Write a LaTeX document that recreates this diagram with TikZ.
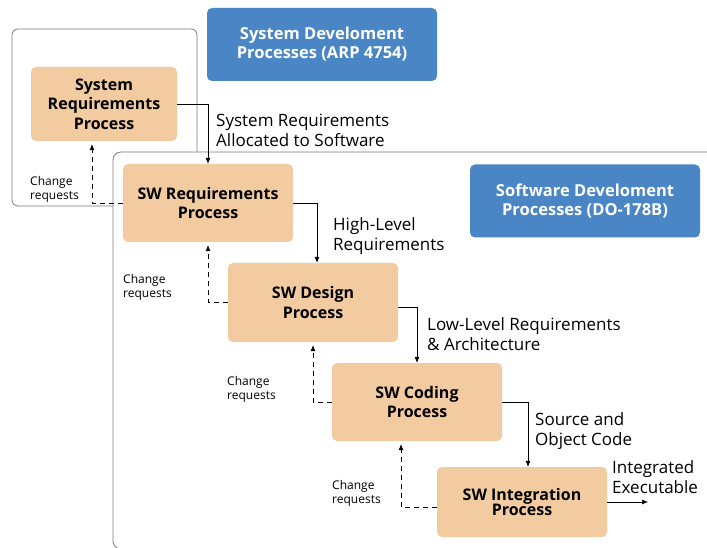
\documentclass[tikz,border=0pt]{standalone}
\usepackage{fontspec}
\setmainfont{Open Sans}
\usetikzlibrary{arrows.meta}
\definecolor{peach}{RGB}{243,203,161}
\definecolor{steel}{RGB}{74,134,197}
\definecolor{framegray}{RGB}{125,125,125}

\begin{document}
\begin{tikzpicture}[x=1pt,y=-1pt,
  process/.style={fill=peach, rounded corners=5pt, minimum width=170pt, minimum height=78pt,
    align=center, inner sep=0pt, font=\bfseries\fontsize{16}{19.5}\selectfont},
  banner/.style={fill=steel, rounded corners=5pt, minimum width=230pt, minimum height=73pt,
    align=center, inner sep=0pt, text=white, font=\bfseries\fontsize{16.5}{19}\selectfont},
  note/.style={anchor=north west, align=left, inner sep=0pt, font=\fontsize{17}{20}\selectfont},
  crnote/.style={anchor=north west, align=left, inner sep=0pt, font=\fontsize{12}{14}\selectfont},
  flow/.style={-{Latex[length=6pt,width=5pt]}, line width=0.6pt},
  change/.style={flow, dash pattern=on 5pt off 4pt, shorten >=3pt}]
\useasboundingbox (0,0) rectangle (707,548);
\clip (0,0) rectangle (707,548);

\draw[framegray, line width=0.8pt, rounded corners=6pt] (12,29) rectangle (197,206);
\draw[framegray, line width=0.8pt, fill=white, rounded corners=8pt] (113,152) rectangle (760,549);

\node[banner] (sysdev) at (322,44.5) {System Develoment\\Processes (ARP 4754)};
\node[banner] (swdev) at (585,201) {Software Develoment\\Processes (DO-178B)};

\node[process, minimum width=146pt, minimum height=74pt] (sysreq) at (104,104) {System\\Requirements\\Process};
\node[process] (swreq) at (208,203) {SW Requirements\\Process};
\node[process, minimum height=79pt] (design) at (313,302.5) {SW Design\\Process};
\node[process] (coding) at (417,402) {SW Coding\\Process};
\node[process, minimum height=70pt, font=\bfseries\fontsize{16}{15.5}\selectfont] (integ) at (522,502) {SW Integration\\Process};
\coordinate (out) at (648,502);

\draw[flow] (sysreq.east) -| (swreq.north);
\draw[flow] (swreq.east) -| ([xshift=4pt]design.north);
\draw[flow] ([yshift=-5pt]design.east) -| (coding.north);
\draw[flow] (coding.east) -| ([xshift=6pt]integ.north);
\draw[flow] (integ.east) -- (out);

\draw[change] (swreq.west) -| ([xshift=-12pt]sysreq.south);
\draw[change] (design.west) -| (swreq.south);
\draw[change] (coding.west) -| (design.south);
\draw[change] ([yshift=-5pt]integ.west) -| ([xshift=-16pt]coding.south);

\node[note] (allocated) at (216,114) {System Requirements\\Allocated to Software};
\node[note] (highlevel) at (333,217) {High-Level\\Requirements};
\node[note] (lowlevel) at (427,317) {Low-Level Requirements\\\& Architecture};
\node[note] (source) at (535,412) {Source and\\Object Code};
\node[note] (integrated) at (612,460) {Integrated\\Executable};

\node[crnote] (cr1) at (30,176) {Change\\requests};
\node[crnote] (cr2) at (123,274) {Change\\requests};
\node[crnote] (cr3) at (227,376) {Change\\requests};
\node[crnote] (cr4) at (332,480) {Change\\requests};
\end{tikzpicture}
\end{document}
